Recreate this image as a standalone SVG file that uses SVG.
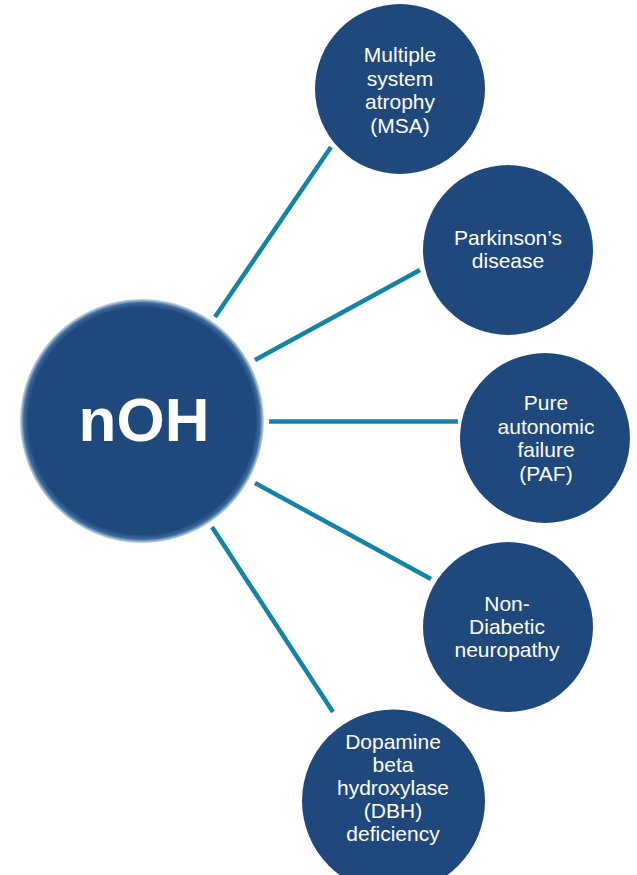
<svg xmlns="http://www.w3.org/2000/svg" width="637" height="875" viewBox="0 0 637 875">
<defs>
<radialGradient id="hubFill" cx="0.5" cy="0.5" r="0.5">
<stop offset="0" stop-color="#1f497d"/>
<stop offset="0.93" stop-color="#1f497d"/>
<stop offset="0.97" stop-color="#3f6d9c"/>
<stop offset="1" stop-color="#9bbbd6" stop-opacity="0.6"/>
</radialGradient>
</defs>
<style>
.node{fill:#1f497d;}
.lbl{font-family:"Liberation Sans",Arial,sans-serif;font-size:21px;fill:#ffffff;text-anchor:middle;}
.hub{font-family:"Liberation Sans",Arial,sans-serif;font-size:62px;font-weight:bold;fill:#ffffff;text-anchor:middle;}
.edge{stroke:#1384a8;stroke-width:4.5;fill:none;}
</style>
<rect width="637" height="875" fill="#ffffff"/>
<g id="connectors">
<line class="edge" x1="215" y1="317" x2="331" y2="147"/>
<line class="edge" x1="255" y1="360" x2="420" y2="270"/>
<line class="edge" x1="269" y1="421.5" x2="458" y2="421.5"/>
<line class="edge" x1="255" y1="483" x2="431" y2="579"/>
<line class="edge" x1="212" y1="527" x2="333" y2="712"/>
</g>
<g id="node-noh">
<circle cx="142" cy="421" r="122" fill="url(#hubFill)"/>
<text class="hub" x="144" y="441">nOH</text>
</g>
<g id="node-msa">
<circle class="node" cx="400" cy="89" r="85"/>
<text class="lbl" x="400" y="62">Multiple</text>
<text class="lbl" x="400" y="85.5">system</text>
<text class="lbl" x="400" y="109">atrophy</text>
<text class="lbl" x="400" y="132.5">(MSA)</text>
</g>
<g id="node-pd">
<circle class="node" cx="508" cy="250" r="85"/>
<text class="lbl" x="508" y="245">Parkinson’s</text>
<text class="lbl" x="508" y="268">disease</text>
</g>
<g id="node-paf">
<circle class="node" cx="545" cy="438" r="85"/>
<text class="lbl" x="546" y="410">Pure</text>
<text class="lbl" x="546" y="433.5">autonomic</text>
<text class="lbl" x="546" y="457">failure</text>
<text class="lbl" x="546" y="480.5">(PAF)</text>
</g>
<g id="node-ndn">
<circle class="node" cx="508" cy="627" r="85"/>
<text class="lbl" x="507" y="611">Non-</text>
<text class="lbl" x="507" y="634">Diabetic</text>
<text class="lbl" x="507" y="657">neuropathy</text>
</g>
<g id="node-dbh">
<circle class="node" cx="393.5" cy="801" r="91.5"/>
<text class="lbl" x="393" y="749">Dopamine</text>
<text class="lbl" x="393" y="772">beta</text>
<text class="lbl" x="393" y="795">hydroxylase</text>
<text class="lbl" x="393" y="818">(DBH)</text>
<text class="lbl" x="393" y="841">deficiency</text>
</g>
</svg>
